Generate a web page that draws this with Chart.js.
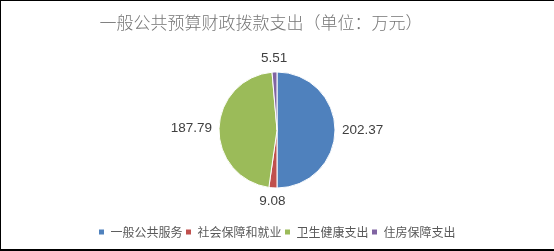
<!DOCTYPE html>
<html lang="zh">
<head>
  <meta charset="UTF-8" />
  <title>一般公共预算财政拨款支出</title>
  <script src="https://cdn.jsdelivr.net/npm/chart.js"></script>
  <style>
    html, body {
      margin: 0;
      padding: 0;
      background: #fff;
    }

    .wrap {
      position: relative;
      width: 554px;
      height: 251px;
    }

    .frame {
      position: absolute;
      left: 0;
      top: 0;
      width: 554px;
      height: 251px;
      border-top: 1px solid #000;
      border-left: 1px solid #000;
      border-bottom: 2px solid #000;
      box-sizing: border-box;
      pointer-events: none;
    }
  </style>
</head>
<body>

  <div class="wrap">
    <canvas id="pieChart" width="554" height="251"></canvas>
    <div class="frame"></div>
  </div>

  <script>
    const chartTitle = '一般公共预算财政拨款支出（单位：万元）';
    const categories = ['一般公共服务', '社会保障和就业', '卫生健康支出', '住房保障支出'];
    const amounts = [202.37, 9.08, 187.79, 5.51];
    const sliceColors = ['#4F81BD', '#C0504D', '#9BBB59', '#8064A2'];

    const fontFamily = "'Noto Sans CJK SC', 'Noto Sans', sans-serif";

    // title sits a little left of centre, like the original
    const offsetTitle = {
      id: 'offsetTitle',
      afterDraw(chart) {
        const ctx = chart.ctx;
        ctx.save();
        ctx.fillStyle = '#767676';
        ctx.font = '300 17px ' + fontFamily;
        ctx.textAlign = 'center';
        ctx.textBaseline = 'middle';
        ctx.fillText(chartTitle, chart.width / 2 - 16, 23);
        ctx.restore();
      }
    };

    // value labels just outside each slice
    const outsideLabels = {
      id: 'outsideLabels',
      afterDatasetsDraw(chart) {
        const ctx = chart.ctx;
        const meta = chart.getDatasetMeta(0);
        ctx.save();
        ctx.fillStyle = '#404040';
        ctx.font = "13.5px 'Liberation Sans', 'DejaVu Sans', sans-serif";
        meta.data.forEach((arc, i) => {
          const p = arc.getProps(['x', 'y', 'startAngle', 'endAngle', 'outerRadius'], true);
          const mid = (p.startAngle + p.endAngle) / 2;
          const r = p.outerRadius + 7;
          const cx = p.x + Math.cos(mid) * r;
          const cy = p.y + Math.sin(mid) * r;
          const c = Math.cos(mid), s = Math.sin(mid);
          ctx.textAlign = c > 0.3 ? 'left' : (c < -0.3 ? 'right' : 'center');
          ctx.textBaseline = s < -0.3 ? 'bottom' : (s > 0.3 ? 'top' : 'middle');
          ctx.fillText(amounts[i].toFixed(2), cx, cy);
        });
        ctx.restore();
      }
    };

    new Chart(document.getElementById('pieChart'), {
      type: 'pie',
      data: {
        labels: categories,
        datasets: [{
          data: amounts,
          backgroundColor: sliceColors,
          borderColor: '#ffffff',
          borderWidth: 1
        }]
      },
      options: {
        responsive: false,
        animation: false,
        radius: 58,
        layout: {
          padding: { top: 37, bottom: 3 }
        },
        plugins: {
          title: { display: false },
          legend: {
            position: 'bottom',
            labels: {
              boxWidth: 6,
              boxHeight: 6,
              padding: 3,
              color: '#595959',
              font: { family: fontFamily, size: 12 }
            }
          },
          tooltip: { enabled: false }
        }
      },
      plugins: [outsideLabels, offsetTitle]
    });
  </script>

</body>
</html>
